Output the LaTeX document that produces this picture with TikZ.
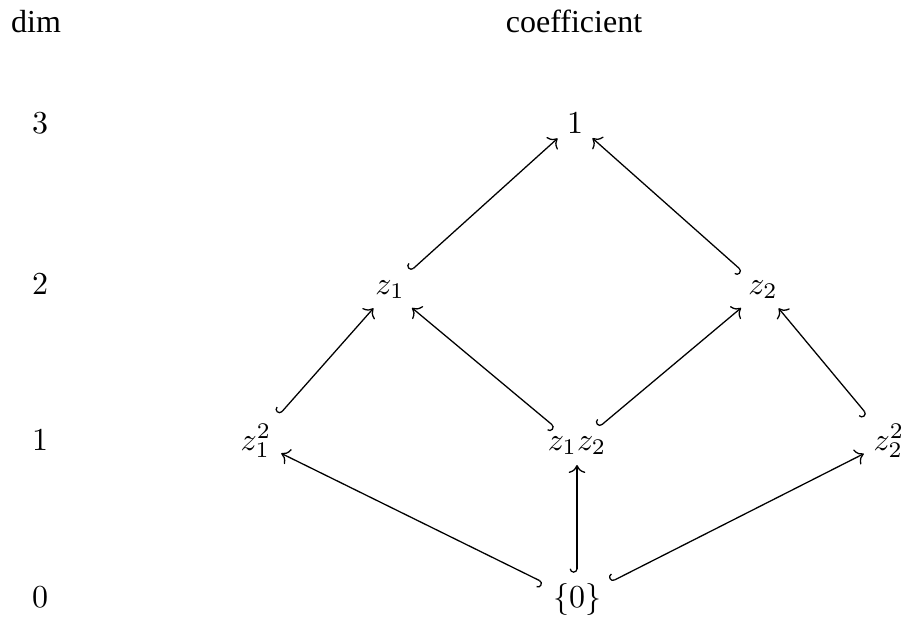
\documentclass[tikz,border=0pt]{standalone}
\usepackage[no-math]{fontspec}
\setmainfont{Liberation Serif}
\usetikzlibrary{arrows.meta}
\begin{document}
\begin{tikzpicture}[x=0.3125pt,y=-0.3125pt,
  lbl/.style={anchor=base,inner sep=0pt},
  obj/.style={anchor=base,inner sep=2pt},
  inc/.style={{Hooks[right]}-{Computer Modern Rightarrow},line width=0.4pt,shorten <=1pt,shorten >=1pt}]
\useasboundingbox (0,0) rectangle (907,643);
\node[lbl] (dim) at (36,32) {dim};
\node[lbl] (coef) at (574,32) {coefficient};
\node[lbl] (r3) at (40,133) {$3$};
\node[lbl] (r2) at (40,294) {$2$};
\node[lbl] (r1) at (40,450) {$1$};
\node[lbl] (r0) at (40,607) {$0$};
\node[obj] (one) at (575,133) {$1$};
\node[obj] (za) at (390,294) {$z_1$};
\node[obj] (zb) at (763,294) {$z_2$};
\node[obj] (zaa) at (256,450) {$z_1^2$};
\node[obj] (zab) at (577,450) {$z_1z_2$};
\node[obj] (zbb) at (889,450) {$z_2^2$};
\node[obj] (zero) at (577,607) {$\{0\}$};
\draw[inc] (za) -- (one);
\draw[inc] (zb) -- (one);
\draw[inc] (zaa) -- (za);
\draw[inc] (zab) -- (za);
\draw[inc] (zab) -- (zb);
\draw[inc] (zbb) -- (zb);
\draw[inc] (zero) -- (zaa);
\draw[inc] (zero) -- (zab);
\draw[inc] (zero) -- (zbb);
\end{tikzpicture}
\end{document}
